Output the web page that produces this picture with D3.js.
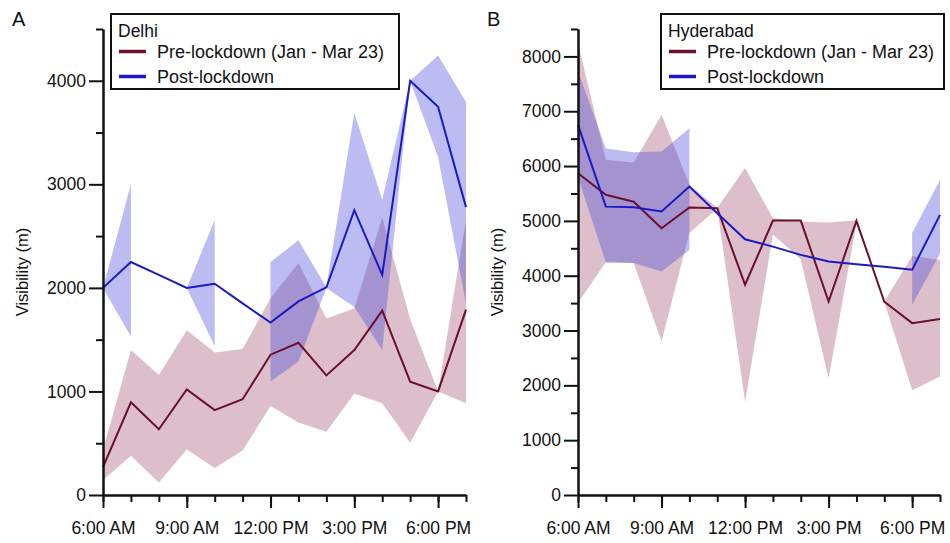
<!DOCTYPE html>
<html>
<head>
<meta charset="utf-8">
<script src="https://cdn.jsdelivr.net/npm/d3@7"></script>
<style>
  body { margin: 0; background: #fff; }
  svg { display: block; font-family: "Liberation Sans", Arial, sans-serif; }
</style>
</head>
<body>
<div class="vis"></div>
<script>
// hour of day, 6 AM .. 7 PM
const hours = [6, 7, 8, 9, 10, 11, 12, 13, 14, 15, 16, 17, 18, 19];
const labelHours = [6, 9, 12, 15, 18];
const hourLabels = ["6:00 AM", "9:00 AM", "12:00 PM", "3:00 PM", "6:00 PM"];
const seriesNames = ["Pre-lockdown (Jan - Mar 23)", "Post-lockdown"];

// Delhi
const delhiPre = [270, 895, 635, 1020, 820, 925, 1355, 1470, 1155, 1400, 1780, 1095, 1000, 1790];
const delhiPreLo = [145, 380, 120, 440, 260, 430, 860, 700, 610, 980, 885, 505, 1000, 885];
const delhiPreHi = [435, 1400, 1160, 1590, 1375, 1410, 1900, 2240, 1705, 1800, 2680, 1700, 1000, 2660];
const delhiPost = [2000, 2250, 2125, 2000, 2040, 1850, 1665, 1870, 2005, 2750, 2125, 4000, 3750, 2780];
const delhiPostLo = [2000, 1530, null, 2000, 1440, null, 1095, 1290, 2000, 1815, 1400, 4000, 3265, 1850];
const delhiPostHi = [2000, 3000, null, 2000, 2655, null, 2250, 2460, 2005, 3690, 2850, 4000, 4245, 3795];

// Hyderabad
const hydPre = [5870, 5475, 5350, 4865, 5245, 5230, 3835, 5005, 5005, 3530, 5000, 3525, 3135, 3210];
const hydPreLo = [3500, 4250, 4230, 2800, 4780, 5225, 1700, 4750, 4300, 2130, 4950, 3520, 1910, 2160];
const hydPreHi = [8245, 6115, 6065, 6935, 5660, 5235, 5965, 5050, 4990, 4970, 5010, 3530, 4360, 4285];
const hydPost = [6750, 5260, 5250, 5170, 5625, 5140, 4665, 4530, 4380, 4260, 4210, 4165, 4110, 5110];
const hydPostLo = [5800, 4240, 4230, 4075, 4470, null, null, null, null, null, null, null, 3470, 4400];
const hydPostHi = [7730, 6320, 6250, 6265, 6690, null, null, null, null, null, null, null, 4780, 5750];

const preColor = "#6a0f30";
const postColor = "#1a1ac4";
const preFill = "rgb(150,60,95)";
const postFill = "rgb(70,70,220)";
const font = 17.5;

const svg = d3.select(".vis").append("svg")
  .attr("width", 950)
  .attr("height", 543);

const draw = (p) => {
  const g = svg.append("g");

  const x = d3.scaleLinear().domain([6, 19]).range([p.left, p.right]);
  const y = d3.scaleLinear().domain([0, p.yMax]).range([495, 29]);

  const rows = hours.map((h, i) => ({
    h: h,
    pre: p.pre[i], preLo: p.preLo[i], preHi: p.preHi[i],
    post: p.post[i], postLo: p.postLo[i], postHi: p.postHi[i]
  }));

  const band = (lo, hi) => d3.area()
    .defined((d) => d[lo] != null && d[hi] != null)
    .x((d) => x(d.h))
    .y0((d) => y(d[lo]))
    .y1((d) => y(d[hi]));

  const line = (k) => d3.line()
    .x((d) => x(d.h))
    .y((d) => y(d[k]));

  g.append("path").datum(rows)
    .attr("d", band("preLo", "preHi"))
    .attr("fill", preFill).attr("fill-opacity", 0.33);
  g.append("path").datum(rows)
    .attr("d", band("postLo", "postHi"))
    .attr("fill", postFill).attr("fill-opacity", 0.36);
  g.append("path").datum(rows)
    .attr("d", line("pre"))
    .attr("fill", "none").attr("stroke", preColor).attr("stroke-width", 2);
  g.append("path").datum(rows)
    .attr("d", line("post"))
    .attr("fill", "none").attr("stroke", postColor).attr("stroke-width", 2);

  // y axis: minor then major ticks
  const yMinor = d3.range(500, p.yMax + 1, 1000);
  const yMajor = d3.range(0, p.yMax, 1000);
  g.append("g")
    .attr("transform", "translate(" + p.left + ",0)")
    .call(d3.axisLeft(y).tickValues(yMinor).tickSize(7).tickSizeOuter(0).tickFormat(""));
  g.append("g")
    .attr("transform", "translate(" + p.left + ",0)")
    .call(d3.axisLeft(y).tickValues(yMajor).tickSize(14).tickSizeOuter(0).tickPadding(3).tickFormat(d3.format("d")));

  // x axis
  g.append("g")
    .attr("transform", "translate(0,495)")
    .call(d3.axisBottom(x).tickValues(hours).tickSize(7).tickSizeOuter(0).tickFormat(""));
  g.append("g")
    .attr("transform", "translate(0,495)")
    .call(d3.axisBottom(x).tickValues(labelHours).tickSize(13).tickSizeOuter(0).tickPadding(14)
      .tickFormat((d, i) => hourLabels[i]));

  g.selectAll(".domain, .tick line").attr("stroke", "#111").attr("stroke-width", 2);
  g.selectAll(".tick text")
    .attr("fill", "#111")
    .style("font-size", font + "px")
    .style("font-family", "'Liberation Sans', Arial, sans-serif");

  g.append("text")
    .attr("transform", "translate(" + (p.left - 81) + ",272) rotate(-90)")
    .attr("text-anchor", "middle")
    .attr("dy", "0.35em")
    .style("font-size", "16.5px")
    .attr("fill", "#111")
    .text("Visibility (m)");

  g.append("text")
    .attr("x", p.left - 91)
    .attr("y", 26)
    .style("font-size", "20px")
    .attr("fill", "#111")
    .text(p.tag);

  // legend
  const lg = g.append("g").attr("transform", "translate(" + p.legX + ",14)");
  lg.append("rect")
    .attr("width", p.legW).attr("height", 75)
    .attr("fill", "#fff").attr("stroke", "#111").attr("stroke-width", 2);
  lg.append("text").attr("x", 7).attr("y", 23)
    .style("font-size", font + "px").attr("fill", "#111").text(p.city);
  [preColor, postColor].forEach((c, i) => {
    const yy = 37.5 + i * 25;
    lg.append("line")
      .attr("x1", 8).attr("x2", 35).attr("y1", yy).attr("y2", yy)
      .attr("stroke", c).attr("stroke-width", 3.5);
    lg.append("text").attr("x", 46).attr("y", yy).attr("dy", "0.35em")
      .style("font-size", "18px").attr("fill", "#111").text(seriesNames[i]);
  });
};

draw({
  tag: "A", city: "Delhi", left: 103, right: 466, yMax: 4500,
  legX: 111, legW: 288,
  pre: delhiPre, preLo: delhiPreLo, preHi: delhiPreHi,
  post: delhiPost, postLo: delhiPostLo, postHi: delhiPostHi
});
draw({
  tag: "B", city: "Hyderabad", left: 578, right: 940, yMax: 8500,
  legX: 661, legW: 283,
  pre: hydPre, preLo: hydPreLo, preHi: hydPreHi,
  post: hydPost, postLo: hydPostLo, postHi: hydPostHi
});
</script>
</body>
</html>
